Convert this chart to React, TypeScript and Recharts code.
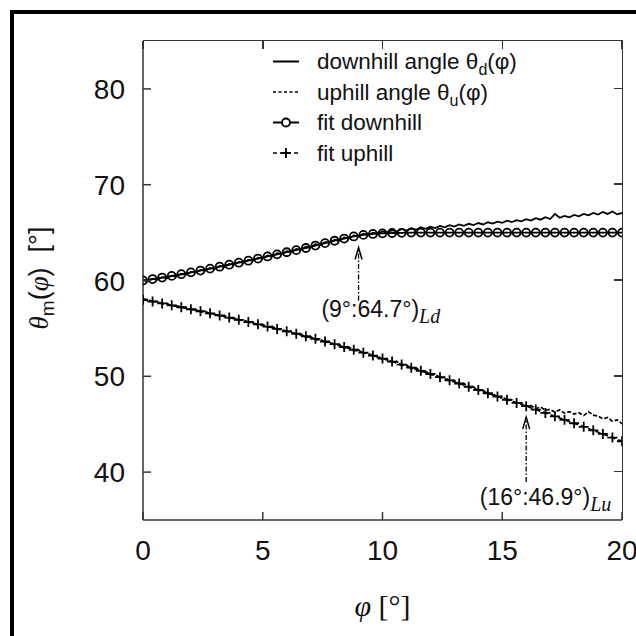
import React from "react";
import { LineChart, Line, XAxis, YAxis, ReferenceLine, ReferenceDot, Legend } from "recharts";

// ---------- data ----------
const xTicks = [0, 5, 10, 15, 20];
const yTicks = [40, 50, 60, 70, 80];
const xDomain = [0, 20];
const yDomain = [35, 85];

// measured curves (step 0.2 deg)
const phiData = [
  0.0, 0.2, 0.4, 0.6, 0.8, 1.0, 1.2, 1.4, 1.6, 1.8, 2.0, 2.2, 2.4, 2.6, 2.8, 3.0, 3.2, 3.4, 3.6, 3.8,
  4.0, 4.2, 4.4, 4.6, 4.8, 5.0, 5.2, 5.4, 5.6, 5.8, 6.0, 6.2, 6.4, 6.6, 6.8, 7.0, 7.2, 7.4, 7.6, 7.8,
  8.0, 8.2, 8.4, 8.6, 8.8, 9.0, 9.2, 9.4, 9.6, 9.8, 10.0, 10.2, 10.4, 10.6, 10.8, 11.0, 11.2, 11.4, 11.6, 11.8,
  12.0, 12.2, 12.4, 12.6, 12.8, 13.0, 13.2, 13.4, 13.6, 13.8, 14.0, 14.2, 14.4, 14.6, 14.8, 15.0, 15.2, 15.4, 15.6, 15.8,
  16.0, 16.2, 16.4, 16.6, 16.8, 17.0, 17.2, 17.4, 17.6, 17.8, 18.0, 18.2, 18.4, 18.6, 18.8, 19.0, 19.2, 19.4, 19.6, 19.8, 20.0,
];
const downhillAngle = [
  60.05, 59.92, 60.18, 60.1, 60.35, 60.22, 60.5, 60.41, 60.68, 60.62, 60.9, 60.84, 61.1, 61.02, 61.3, 61.21, 61.52, 61.4, 61.72, 61.66,
  61.94, 61.85, 62.15, 62.08, 62.38, 62.3, 62.62, 62.5, 62.84, 62.78, 63.05, 62.98, 63.3, 63.22, 63.52, 63.45, 63.78, 63.7, 64.0, 63.95,
  64.25, 64.15, 64.5, 64.38, 64.7, 64.6, 64.88, 64.75, 65.0, 64.9, 65.12, 65.0, 65.25, 65.1, 65.38, 65.22, 65.45, 65.3, 65.55, 65.4,
  65.62, 65.48, 65.7, 65.55, 65.78, 65.62, 65.85, 65.7, 65.92, 65.78, 66.0, 65.85, 66.08, 65.95, 66.15, 66.02, 66.25, 66.1, 66.3, 66.18,
  66.4, 66.25, 66.5, 66.35, 66.6, 66.42, 66.95, 66.55, 66.75, 66.6, 66.85, 66.7, 66.95, 66.8, 67.05, 66.88, 67.15, 66.95, 67.2, 66.9, 67.05,
];
const uphillAngle = [
  58.1, 57.95, 57.88, 57.8, 57.55, 57.6, 57.35, 57.4, 57.15, 57.2, 56.95, 56.98, 56.72, 56.8, 56.5, 56.55, 56.28, 56.35, 56.05, 56.1,
  55.82, 55.9, 55.6, 55.65, 55.35, 55.42, 55.1, 55.2, 54.88, 54.92, 54.62, 54.68, 54.35, 54.4, 54.08, 54.15, 53.8, 53.88, 53.52, 53.6,
  53.25, 53.32, 52.95, 53.05, 52.65, 52.75, 52.38, 52.45, 52.05, 52.15, 51.75, 51.85, 51.45, 51.55, 51.12, 51.2, 50.8, 50.9, 50.48, 50.55,
  50.15, 50.22, 49.82, 49.9, 49.5, 49.58, 49.15, 49.25, 48.82, 48.9, 48.48, 48.55, 48.15, 48.22, 47.8, 47.9, 47.48, 47.55, 47.15, 47.25,
  46.9, 46.95, 46.62, 46.8, 46.45, 46.55, 46.25, 46.5, 46.15, 46.3, 46.05, 46.2, 45.9, 46.3, 45.95, 45.85, 45.55, 45.7, 45.3, 45.45, 45.05,
];

// fits (step 0.4 deg)
const phiFit = [
  0.0, 0.4, 0.8, 1.2, 1.6, 2.0, 2.4, 2.8, 3.2, 3.6, 4.0, 4.4, 4.8, 5.2, 5.6, 6.0, 6.4, 6.8, 7.2, 7.6,
  8.0, 8.4, 8.8, 9.2, 9.6, 10.0, 10.4, 10.8, 11.2, 11.6, 12.0, 12.4, 12.8, 13.2, 13.6, 14.0, 14.4, 14.8, 15.2, 15.6,
  16.0, 16.4, 16.8, 17.2, 17.6, 18.0, 18.4, 18.8, 19.2, 19.6, 20.0,
];
const fitDownhill = [
  60.0, 60.15, 60.31, 60.48, 60.66, 60.85, 61.04, 61.24, 61.44, 61.65, 61.86, 62.07, 62.29, 62.51, 62.73, 62.95, 63.17, 63.39, 63.65, 63.9,
  64.15, 64.38, 64.6, 64.76, 64.86, 64.92, 64.96, 64.98, 65.0, 65.0, 65.0, 65.0, 65.0, 65.0, 65.0, 65.0, 65.0, 65.0, 65.0, 65.0,
  65.0, 65.0, 65.0, 65.0, 65.0, 65.0, 65.0, 65.0, 65.0, 65.0, 65.0,
];
const fitUphill = [
  58.0, 57.81, 57.61, 57.41, 57.21, 57.0, 56.79, 56.57, 56.35, 56.13, 55.9, 55.67, 55.43, 55.19, 54.95, 54.7, 54.44, 54.18, 53.91, 53.63,
  53.35, 53.06, 52.77, 52.47, 52.16, 51.85, 51.54, 51.22, 50.9, 50.57, 50.24, 49.91, 49.58, 49.25, 48.91, 48.57, 48.23, 47.89, 47.55, 47.22,
  46.88, 46.53, 46.18, 45.82, 45.46, 45.1, 44.73, 44.36, 43.98, 43.6, 43.22,
];

// annotations
const arrowX = [9, 16];
const arrowTip = [63.44, 45.74];
const arrowTail = [57.91, 38.96];
const labelX = [7.45, 14.06];
const labelY = [56.17, 36.53];
const labelText = ["(9°:64.7°)", "(16°:46.9°)"];
const labelSub = ["Ld", "Lu"];

const legendLabels = ["downhill angle θ", "uphill angle θ", "fit downhill", "fit uphill"];
const legendSubs = ["d", "u", "", ""];

// ---------- derived tables ----------
const downData = phiData.map((p, i) => ({ phi: p, v: downhillAngle[i] }));
const upData = phiData.map((p, i) => ({ phi: p, v: uphillAngle[i] }));
const fitDownData = phiFit.map((p, i) => ({ phi: p, v: fitDownhill[i] }));
const fitUpData = phiFit.map((p, i) => ({ phi: p, v: fitUphill[i] }));

// ---------- layout ----------
const CHART_W = 636;
const CHART_H = 636;
const M_TOP = 41;
const M_RIGHT = 14;
const Y_AXIS_W = 143;
const X_AXIS_H = 116;
const PLOT_W = CHART_W - M_RIGHT - Y_AXIS_W;
const PLOT_H = CHART_H - M_TOP - X_AXIS_H;
const TICK = 8;
const LW = 1.5;

const SANS = "'Liberation Sans', Arial, Helvetica, sans-serif";
const SERIF = "'Liberation Serif', 'Times New Roman', serif";
const AX = "#333";

const BottomTick = (props: any) => {
  const { x, y, payload } = props;
  return (
    <g>
      <line x1={x} y1={y} x2={x} y2={y - TICK} stroke={AX} strokeWidth={LW} />
      <text x={x} y={y + 40} textAnchor="middle" fontFamily={SANS} fontSize={28} fill="#111">
        {payload.value}
      </text>
    </g>
  );
};
const LeftTick = (props: any) => {
  const { x, y, payload } = props;
  return (
    <g>
      <line x1={x} y1={y} x2={x + TICK} y2={y} stroke={AX} strokeWidth={LW} />
      <text x={x - 18} y={y + 10} textAnchor="end" fontFamily={SANS} fontSize={28} fill="#111">
        {payload.value}
      </text>
    </g>
  );
};

const PlusDot = (props: any) => {
  const { cx, cy, index } = props;
  if (cx == null || cy == null) return <g key={index} />;
  return (
    <path
      key={index}
      d={`M${cx - 5},${cy}h10M${cx},${cy - 5}v10`}
      stroke="#000"
      strokeWidth={1.8}
      fill="none"
    />
  );
};

const ArrowHead = (props: any) => {
  const { cx, cy } = props;
  return (
    <path
      d={`M${cx - 3.5},${cy + 12}L${cx},${cy}L${cx + 3.5},${cy + 12}`}
      stroke="#000"
      strokeWidth={1.5}
      fill="none"
    />
  );
};

const makeLabel = (i: number) => (props: any) => {
  const { cx, cy } = props;
  return (
    <text x={cx} y={cy} fontFamily={SANS} fontSize={23} fill="#111">
      {labelText[i]}
      <tspan fontFamily={SERIF} fontStyle="italic" fontSize={20} dy={6}>
        {labelSub[i]}
      </tspan>
    </text>
  );
};

const LegendBox = () => {
  const rowY = (i: number) => 24 + 30.5 * i;
  return (
    <svg width={290} height={135}>
      {legendLabels.map((lab, i) => {
        const by = rowY(i);
        const ly = by - 7.5;
        return (
          <g key={i}>
            {i === 0 && <line x1={8} y1={ly} x2={34} y2={ly} stroke="#000" strokeWidth={2} />}
            {i === 1 && (
              <line x1={8} y1={ly} x2={34} y2={ly} stroke="#000" strokeWidth={1.7} strokeDasharray="3 2.5" />
            )}
            {i === 2 && (
              <g>
                <line x1={8} y1={ly} x2={34} y2={ly} stroke="#000" strokeWidth={2} />
                <circle cx={21} cy={ly} r={4} fill="#fff" stroke="#000" strokeWidth={1.8} />
              </g>
            )}
            {i === 3 && (
              <g>
                <line x1={8} y1={ly} x2={34} y2={ly} stroke="#000" strokeWidth={1.7} strokeDasharray="4 3" />
                <path d={`M16,${ly}h10M21,${ly - 5}v10`} stroke="#000" strokeWidth={1.8} />
              </g>
            )}
            <text x={52} y={by} fontFamily={SANS} fontSize={22.5} fill="#111">
              {lab}
              {legendSubs[i] && (
                <>
                  <tspan fontSize={16} dy={6}>
                    {legendSubs[i]}
                  </tspan>
                  <tspan dy={-6}>(φ)</tspan>
                </>
              )}
            </text>
          </g>
        );
      })}
    </svg>
  );
};

const XLabel = (props: any) => {
  const vb = props.viewBox;
  return (
    <text x={vb.x + vb.width / 2} y={vb.y + 96} textAnchor="middle" fontFamily={SERIF} fontSize={30} fill="#111">
      <tspan fontStyle="italic">φ</tspan>
      <tspan> [°]</tspan>
    </text>
  );
};
const YLabel = () => {
  return (
    <text
      x={0}
      y={0}
      transform="translate(48,278) rotate(-90)"
      textAnchor="middle"
      fontFamily={SANS}
      fontSize={27}
      fill="#111"
    >
      <tspan fontFamily={SERIF} fontStyle="italic">θ</tspan>
      <tspan fontSize={19} dy={6}>m</tspan>
      <tspan dy={-6}>(</tspan>
      <tspan fontFamily={SERIF} fontStyle="italic">φ</tspan>
      <tspan>)</tspan>
      <tspan>{"\u00a0\u00a0[°]"}</tspan>
    </text>
  );
};

// top and right edges of the plot box with mirrored inward ticks
const FrameOverlay = () => {
  const fx = (t: number) => ((t - xDomain[0]) / (xDomain[1] - xDomain[0])) * PLOT_W;
  const fy = (t: number) => ((yDomain[1] - t) / (yDomain[1] - yDomain[0])) * PLOT_H;
  return (
    <div
      style={{
        position: "absolute",
        left: Y_AXIS_W,
        top: M_TOP - LW / 2,
        width: PLOT_W + LW / 2,
        height: PLOT_H + LW / 2,
        borderTop: `${LW}px solid ${AX}`,
        borderRight: `${LW}px solid ${AX}`,
        boxSizing: "border-box",
        pointerEvents: "none",
      }}
    >
      {xTicks.map((t) => (
        <div
          key={"tx" + t}
          style={{ position: "absolute", left: fx(t) - LW / 2, top: 0, width: LW, height: TICK, background: AX }}
        />
      ))}
      {yTicks.map((t) => (
        <div
          key={"ty" + t}
          style={{ position: "absolute", right: 0, top: fy(t) - LW, width: TICK, height: LW, background: AX }}
        />
      ))}
    </div>
  );
};

export default function App() {
  return (
    <div style={{ position: "absolute", left: 0, top: 0, width: CHART_W, height: CHART_H, overflow: "hidden", background: "#fff" }}>
      <div
        style={{
          position: "absolute",
          left: 10,
          top: 10,
          width: 800,
          height: 800,
          border: "4px solid #000",
          boxSizing: "border-box",
        }}
      />
      <div style={{ position: "absolute", left: 0, top: 0 }}>
        <LineChart width={CHART_W} height={CHART_H} margin={{ top: M_TOP, right: M_RIGHT, bottom: 0, left: 0 }}>
          <XAxis
            dataKey="phi"
            type="number"
            domain={xDomain}
            ticks={xTicks}
            allowDataOverflow
            height={X_AXIS_H}
            tickSize={0}
            tickMargin={0}
            tick={<BottomTick />}
            axisLine={{ stroke: AX, strokeWidth: LW }}
            tickLine={false}
            label={<XLabel />}
          />
          <YAxis
            type="number"
            domain={yDomain}
            ticks={yTicks}
            allowDataOverflow
            width={Y_AXIS_W}
            tickSize={0}
            tickMargin={0}
            tick={<LeftTick />}
            axisLine={{ stroke: AX, strokeWidth: LW }}
            tickLine={false}
            label={<YLabel />}
          />
          <Legend
            verticalAlign="middle"
            align="center"
            layout="horizontal"
            content={<LegendBox />}
            wrapperStyle={{ position: "absolute", left: 265, top: 45, width: 290, height: 135 }}
          />
          <Line
            data={downData}
            dataKey="v"
            type="linear"
            stroke="#000"
            strokeWidth={1.8}
            dot={false}
            isAnimationActive={false}
            legendType="none"
          />
          <Line
            data={upData}
            dataKey="v"
            type="linear"
            stroke="#000"
            strokeWidth={1.7}
            strokeDasharray="4 2"
            dot={false}
            isAnimationActive={false}
            legendType="none"
          />
          <Line
            data={fitDownData}
            dataKey="v"
            type="linear"
            stroke="#000"
            strokeWidth={1.8}
            dot={{ r: 4, fill: "none", stroke: "#000", strokeWidth: 1.8 }}
            isAnimationActive={false}
            legendType="none"
          />
          <Line
            data={fitUpData}
            dataKey="v"
            type="linear"
            stroke="#000"
            strokeWidth={1.7}
            strokeDasharray="5 3"
            dot={<PlusDot />}
            isAnimationActive={false}
            legendType="none"
          />
          {arrowX.map((ax, i) => (
            <ReferenceLine
              key={"al" + i}
              segment={[
                { x: ax, y: arrowTail[i] },
                { x: ax, y: arrowTip[i] },
              ]}
              stroke="#000"
              strokeWidth={1.3}
              strokeDasharray="5 2 1.5 2"
            />
          ))}
          {arrowX.map((ax, i) => (
            <ReferenceDot key={"ah" + i} x={ax} y={arrowTip[i]} shape={<ArrowHead />} />
          ))}
          {labelX.map((lx, i) => (
            <ReferenceDot key={"lb" + i} x={lx} y={labelY[i]} shape={makeLabel(i)} />
          ))}
        </LineChart>
      </div>
      <FrameOverlay />
    </div>
  );
}
